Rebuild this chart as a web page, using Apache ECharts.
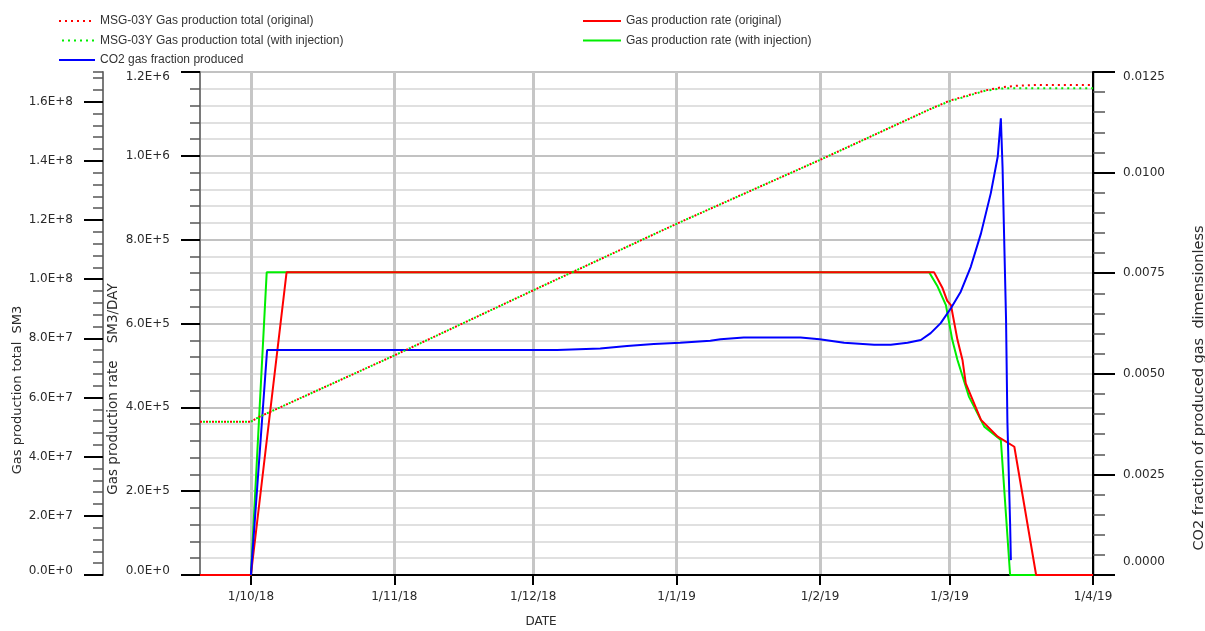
<!DOCTYPE html>
<html><head><meta charset="utf-8">
<script src="https://cdn.jsdelivr.net/npm/echarts@6/dist/echarts.min.js"></script>
<style>html,body{margin:0;padding:0;background:#fff}#c{width:1205px;height:631px}</style>
</head><body><div id="c"></div>
<script>
// ---------- tick labels ----------
const monthTicks = ['2018-10-01','2018-11-01','2018-12-01','2019-01-01','2019-02-01','2019-03-01','2019-04-01'];
const totalTicks = [0,2e7,4e7,6e7,8e7,1e8,1.2e8,1.4e8,1.6e8];
const rateTicks = [0,2e5,4e5,6e5,8e5,1e6,1.2e6];
const co2Ticks = [0,0.0025,0.005,0.0075,0.01,0.0125];

// ---------- series data ----------
const totalOriginal = [
  ['2018-09-20',5.18e7],['2018-10-01',5.18e7],['2018-10-03',5.36e7],['2018-11-01',7.42e7],
  ['2018-12-01',9.62e7],['2019-01-01',1.187e8],['2019-02-01',1.403e8],['2019-02-25 14:00',1.580e8],
  ['2019-03-01',1.603e8],['2019-03-04 22:00',1.621e8],['2019-03-08 12:00',1.637e8],
  ['2019-03-12 02:00',1.648e8],['2019-03-15 00:00',1.653e8],['2019-03-19 17:00',1.656e8],['2019-04-01',1.656e8]
];
const totalInjection = [
  ['2018-09-20',5.18e7],['2018-10-01',5.18e7],['2018-10-03',5.36e7],['2018-11-01',7.42e7],
  ['2018-12-01',9.62e7],['2019-01-01',1.187e8],['2019-02-01',1.403e8],['2019-02-24 14:00',1.573e8],
  ['2019-03-01',1.601e8],['2019-03-04 22:00',1.619e8],['2019-03-08 12:00',1.636e8],
  ['2019-03-12 02:00',1.644e8],['2019-03-14 02:00',1.6455e8],['2019-04-01',1.6455e8]
];
const rateOriginal = [
  ['2018-09-20',0],['2018-10-01',0],['2018-10-08 17:00',7.22e5],['2019-02-25 16:00',7.22e5],
  ['2019-02-27 12:00',6.84e5],['2019-02-28 12:00',6.54e5],['2019-03-01 07:00',6.44e5],
  ['2019-03-02 17:00',5.61e5],['2019-03-03 19:00',5.13e5],['2019-03-04 12:00',4.57e5],
  ['2019-03-07 19:00',3.70e5],['2019-03-11 10:00',3.30e5],['2019-03-15 00:00',3.06e5],
  ['2019-03-15 07:00',3.02e5],['2019-03-19 17:00',0],['2019-04-01',0]
];
const rateInjection = [
  ['2018-09-20',0],['2018-10-01',0],['2018-10-04 10:00',7.22e5],['2019-02-24 14:00',7.22e5],
  ['2019-02-26 10:00',6.88e5],['2019-02-28 05:00',6.44e5],['2019-03-01 14:00',5.61e5],
  ['2019-03-02 17:00',5.13e5],['2019-03-05 05:00',4.25e5],['2019-03-08 12:00',3.54e5],
  ['2019-03-12 02:00',3.22e5],['2019-03-14 02:00',0],['2019-04-01',0]
];
const co2Fraction = [
  ['2018-10-01',0],['2018-10-04 12:00',0.00559],['2018-12-06 05:00',0.00559],['2018-12-15 12:00',0.00563],
  ['2018-12-21 07:00',0.00569],['2018-12-27 02:00',0.00574],['2019-01-01 19:00',0.00577],
  ['2019-01-08 07:00',0.00582],['2019-01-10 12:00',0.00586],['2019-01-15 12:00',0.0059],
  ['2019-01-27 19:00',0.0059],['2019-01-31 22:00',0.00586],['2019-02-06 05:00',0.00577],
  ['2019-02-12 17:00',0.00572],['2019-02-16 07:00',0.00572],['2019-02-19 22:00',0.00577],
  ['2019-02-22 19:00',0.00584],['2019-02-24 22:00',0.00601],['2019-02-27 02:00',0.00626],
  ['2019-03-01 07:00',0.00663],['2019-03-03 10:00',0.00704],['2019-03-05 14:00',0.00766],
  ['2019-03-07 19:00',0.00849],['2019-03-09 22:00',0.00949],['2019-03-11 10:00',0.0104],
  ['2019-03-12 02:00',0.01135],['2019-03-12 11:00',0.01011],['2019-03-12 17:00',0.00882],
  ['2019-03-12 23:00',0.00758],['2019-03-13 05:00',0.00634],['2019-03-13 12:00',0.00381],
  ['2019-03-14 02:00',0.00128],['2019-03-14 06:00',0.00037]
];

const names = {
  totOrig: 'MSG-03Y Gas production total (original)',
  totInj: 'MSG-03Y Gas production total (with injection)',
  co2: 'CO2 gas fraction produced',
  rateOrig: 'Gas production rate (original)',
  rateInj: 'Gas production rate (with injection)'
};

function t(s){
  const p = s.split(' ');
  const d = p[0].split('-').map(Number);
  let hh = 0, mm = 0;
  if (p[1]) { const h = p[1].split(':').map(Number); hh = h[0]; mm = h[1]; }
  return new Date(d[0], d[1]-1, d[2], hh, mm).getTime();
}
const conv = arr => arr.map(r => [t(r[0]), r[1]]);

const FONT = 'DejaVu Sans';
const labelColor = '#2a2a2a';
function expFmt(v){ return Number(v).toExponential(1).replace('e','E'); }

function edgeRich(){
  return {
    n:{fontFamily:FONT,fontSize:12,color:labelColor},
    dn:{fontFamily:FONT,fontSize:12,color:labelColor,padding:[10,0,0,0]},
    up:{fontFamily:FONT,fontSize:12,color:labelColor,padding:[0,0,8,0]},
    up2:{fontFamily:FONT,fontSize:12,color:labelColor,padding:[0,0,26,0]}
  };
}

const chart = echarts.init(document.getElementById('c'), null, {renderer:'canvas'});
const xMin = t('2018-09-20'), xMax = t('2019-04-01');
const monthVals = monthTicks.map(t);

const ghost = (o) => Object.assign({
  type:'value', axisLine:{show:false, onZero:false}, axisLabel:{show:false}, splitLine:{show:false}
}, o);

const legendText = {fontFamily:'Liberation Sans', fontSize:12, color:'#333'};
const option = {
  animation:false,
  backgroundColor:'#fff',
  grid:{left:200, right:112, top:72, bottom:56, containLabel:false},
  legend:[
    {left:58, top:15, padding:0, orient:'vertical', itemWidth:36, itemHeight:14, itemGap:7.5, selectedMode:false,
     itemStyle:{opacity:0, color:'transparent', borderWidth:0},
     data:[names.totOrig, names.totInj, names.co2], textStyle:legendText},
    {left:582, top:15, padding:0, orient:'vertical', itemWidth:38, itemHeight:14, itemGap:7.5, selectedMode:false,
     itemStyle:{opacity:0, color:'transparent', borderWidth:0},
     data:[names.rateOrig, names.rateInj], textStyle:legendText}
  ],
  xAxis:{
    type:'value', min:xMin, max:xMax,
    axisLine:{show:true, onZero:false, lineStyle:{color:'#000', width:2}},
    axisTick:{show:true, customValues:monthVals, length:10, lineStyle:{color:'#000', width:2}},
    axisLabel:{customValues:monthVals, margin:16, fontFamily:FONT, fontSize:12, color:labelColor,
      formatter:v=>{const d=new Date(v); return d.getDate()+'/'+(d.getMonth()+1)+'/'+String(d.getFullYear()).slice(2);}},
    splitLine:{show:true, lineStyle:{color:'#c6c6c6', width:3}}
  },
  yAxis:[
    // 0 rate minor
    ghost({position:'left', min:0, max:1.2e6, interval:4e4,
      axisTick:{show:true, length:10, lineStyle:{color:'#555', width:1.5}},
      splitLine:{show:true, lineStyle:{color:'#d6d6d6', width:1.5}}}),
    // 1 rate main
    {type:'value', position:'left', min:0, max:1.2e6, interval:2e5,
      axisLine:{show:true, onZero:false, lineStyle:{color:'#7a7a7a', width:2}},
      axisTick:{show:true, customValues:rateTicks, length:19, lineStyle:{color:'#000', width:2}},
      axisLabel:{customValues:rateTicks, margin:30, rich:edgeRich(),
        formatter:v=>{const s=expFmt(v); if(v===0) return '{up|'+s+'}'; if(v>=1.2e6) return '{dn|'+s+'}'; return '{n|'+s+'}';}},
      splitLine:{show:true, lineStyle:{color:'#c2c2c2', width:2}}},
    // 2 total minor
    ghost({position:'left', offset:97, min:0, max:1.7e8, interval:4e6,
      axisTick:{show:true, length:10, lineStyle:{color:'#555', width:1.5}}}),
    // 3 total main
    {type:'value', position:'left', offset:97, min:0, max:1.7e8, interval:2e7,
      axisLine:{show:true, onZero:false, lineStyle:{color:'#7a7a7a', width:2}},
      axisTick:{show:true, customValues:totalTicks, length:19, lineStyle:{color:'#000', width:2}},
      axisLabel:{customValues:totalTicks, margin:30, rich:edgeRich(),
        formatter:v=>{const s=expFmt(v); if(v===0) return '{up|'+s+'}'; return '{n|'+s+'}';}},
      splitLine:{show:false}},
    // 4 co2 minor
    ghost({position:'right', min:0, max:0.0125, interval:0.0005,
      axisTick:{show:true, length:12, lineStyle:{color:'#555', width:1.5}}}),
    // 5 co2 main
    {type:'value', position:'right', min:0, max:0.0125, interval:0.0025,
      axisLine:{show:true, onZero:false, lineStyle:{color:'#000', width:2}},
      axisTick:{show:true, customValues:co2Ticks, length:22, lineStyle:{color:'#000', width:2}},
      axisLabel:{customValues:co2Ticks, margin:30, rich:edgeRich(),
        formatter:v=>{const s=Number(v).toFixed(4); if(v===0) return '{up2|'+s+'}'; if(v>=0.0125) return '{dn|'+s+'}'; return '{n|'+s+'}';}},
      splitLine:{show:false}}
  ],
  series:[
    {name:names.rateInj, type:'line', yAxisIndex:1, data:conv(rateInjection), symbol:'none',
     lineStyle:{color:'#00ee00', width:2}, itemStyle:{color:'#00ee00'}},
    {name:names.rateOrig, type:'line', yAxisIndex:1, data:conv(rateOriginal), symbol:'none',
     lineStyle:{color:'#ff0000', width:2}, itemStyle:{color:'#ff0000'}},
    {name:names.co2, type:'line', yAxisIndex:5, data:conv(co2Fraction), symbol:'none',
     lineStyle:{color:'#0000ff', width:2}, itemStyle:{color:'#0000ff'}},
    {name:names.totInj, type:'line', yAxisIndex:3, data:conv(totalInjection), symbol:'none',
     lineStyle:{color:'#00ee00', width:2, type:[2,4], dashOffset:3}, itemStyle:{color:'#00ee00'}},
    {name:names.totOrig, type:'line', yAxisIndex:3, data:conv(totalOriginal), symbol:'none',
     lineStyle:{color:'#ff0000', width:2, type:[2,4]}, itemStyle:{color:'#ff0000'}}
  ],
  graphic:[
    {type:'text', x:18, y:390, rotation:Math.PI/2,
     style:{text:'Gas production total  SM3', font:'13px "DejaVu Sans"', fill:labelColor, align:'center', verticalAlign:'middle'}},
    {type:'text', x:113, y:389, rotation:Math.PI/2,
     style:{text:'Gas production rate    SM3/DAY', font:'13.5px "DejaVu Sans"', fill:labelColor, align:'center', verticalAlign:'middle'}},
    {type:'text', x:1199, y:388, rotation:Math.PI/2,
     style:{text:'CO2 fraction of produced gas  dimensionless', font:'14.5px "DejaVu Sans"', fill:labelColor, align:'center', verticalAlign:'middle'}},
    {type:'text', x:541, y:622,
     style:{text:'DATE', font:'12px "DejaVu Sans"', fill:labelColor, align:'center', verticalAlign:'middle'}}
  ]
};
chart.setOption(option);
</script>
</body></html>
